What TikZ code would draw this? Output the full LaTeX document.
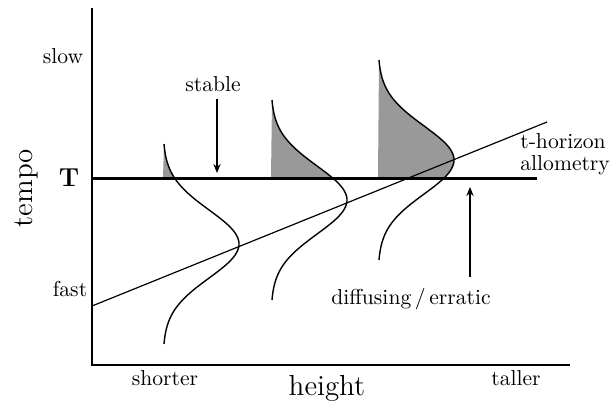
\documentclass[tikz,border=0pt]{standalone}
\usetikzlibrary{arrows.meta}
\begin{document}
\begin{tikzpicture}[x=0.5pt,y=-0.5pt,
  lbl/.style={font=\fontsize{10.8}{12}\selectfont, inner sep=0pt},
  big/.style={font=\fontsize{14.5}{16}\selectfont, inner sep=0pt},
  axis/.style={line width=0.75pt},
  curve/.style={line width=0.7pt},
  shade/.style={fill=black!40},
  tline/.style={line width=1.5pt},
  arr/.style={line width=0.6pt,-{Stealth[length=4.5pt,width=3.6pt]}}]
\useasboundingbox (0,0) rectangle (611,402);
% coordinates
\coordinate (Ytop) at (92,8);
\coordinate (O) at (92,365);
\coordinate (Xend) at (570,365);
\coordinate (T0) at (92,178);
\coordinate (T1) at (537,178);
\coordinate (D0) at (92,306);
\coordinate (D1) at (547,122);
% shaded parts of distributions
\foreach \bx/\c in {163/244, 271/200, 378/160}{
  \pgfmathsetmacro{\ya}{\c-100}
  \pgfmathsetmacro{\yb}{\c+100}
  \fill[shade] plot[domain=\ya:178, samples=60, variable=\t] ({\bx+76*exp(-((\t-\c)*(\t-\c))/2312)},\t) -- (\bx,178) -- cycle;
}
% axes
\draw[axis] (Ytop) -- (O) -- (Xend);
% T line
\draw[tline] (T0) -- (T1);
% distributions
\foreach \bx/\c in {163/244, 271/200, 378/160}{
  \pgfmathsetmacro{\ya}{\c-100}
  \pgfmathsetmacro{\yb}{\c+100}
  \draw[curve] plot[smooth, domain=\ya:\yb, samples=80, variable=\t] ({\bx+76*exp(-((\t-\c)*(\t-\c))/2312)},\t);
}
% t-horizon allometry line
\draw[line width=0.6pt] (D0) -- (D1);
% labels
\node[lbl, anchor=base] (slow) at (63,63) {slow};
\node[lbl, anchor=base] (fast) at (70,296) {fast};
\node[font=\fontsize{13}{14}\selectfont\bfseries, inner sep=0pt] (T) at (69,178) {T};
\node[big, rotate=90] (tempo) at (26,188) {tempo};
\node[lbl, anchor=base] (shorter) at (165,385) {shorter};
\node[lbl, anchor=base] (taller) at (516,385) {taller};
\node[big, anchor=base] (height) at (327,395) {height};
\node[lbl, anchor=base] (stable) at (213,91) {stable};
\node[lbl, anchor=base] (diff) at (411,304) {diffusing\,/\,erratic};
\node[lbl, anchor=base west] (th) at (520,148) {t-horizon};
\node[lbl, anchor=base west] (allo) at (520,170) {allometry};
% arrows
\coordinate (stB) at (217,173);
\draw[arr, shorten <=3.5pt] (stable.south -| stB) -- (stB);
\coordinate (dfA) at (470,277);
\coordinate (dfB) at (470,187);
\draw[arr] (dfA) -- (dfB);
\end{tikzpicture}
\end{document}
